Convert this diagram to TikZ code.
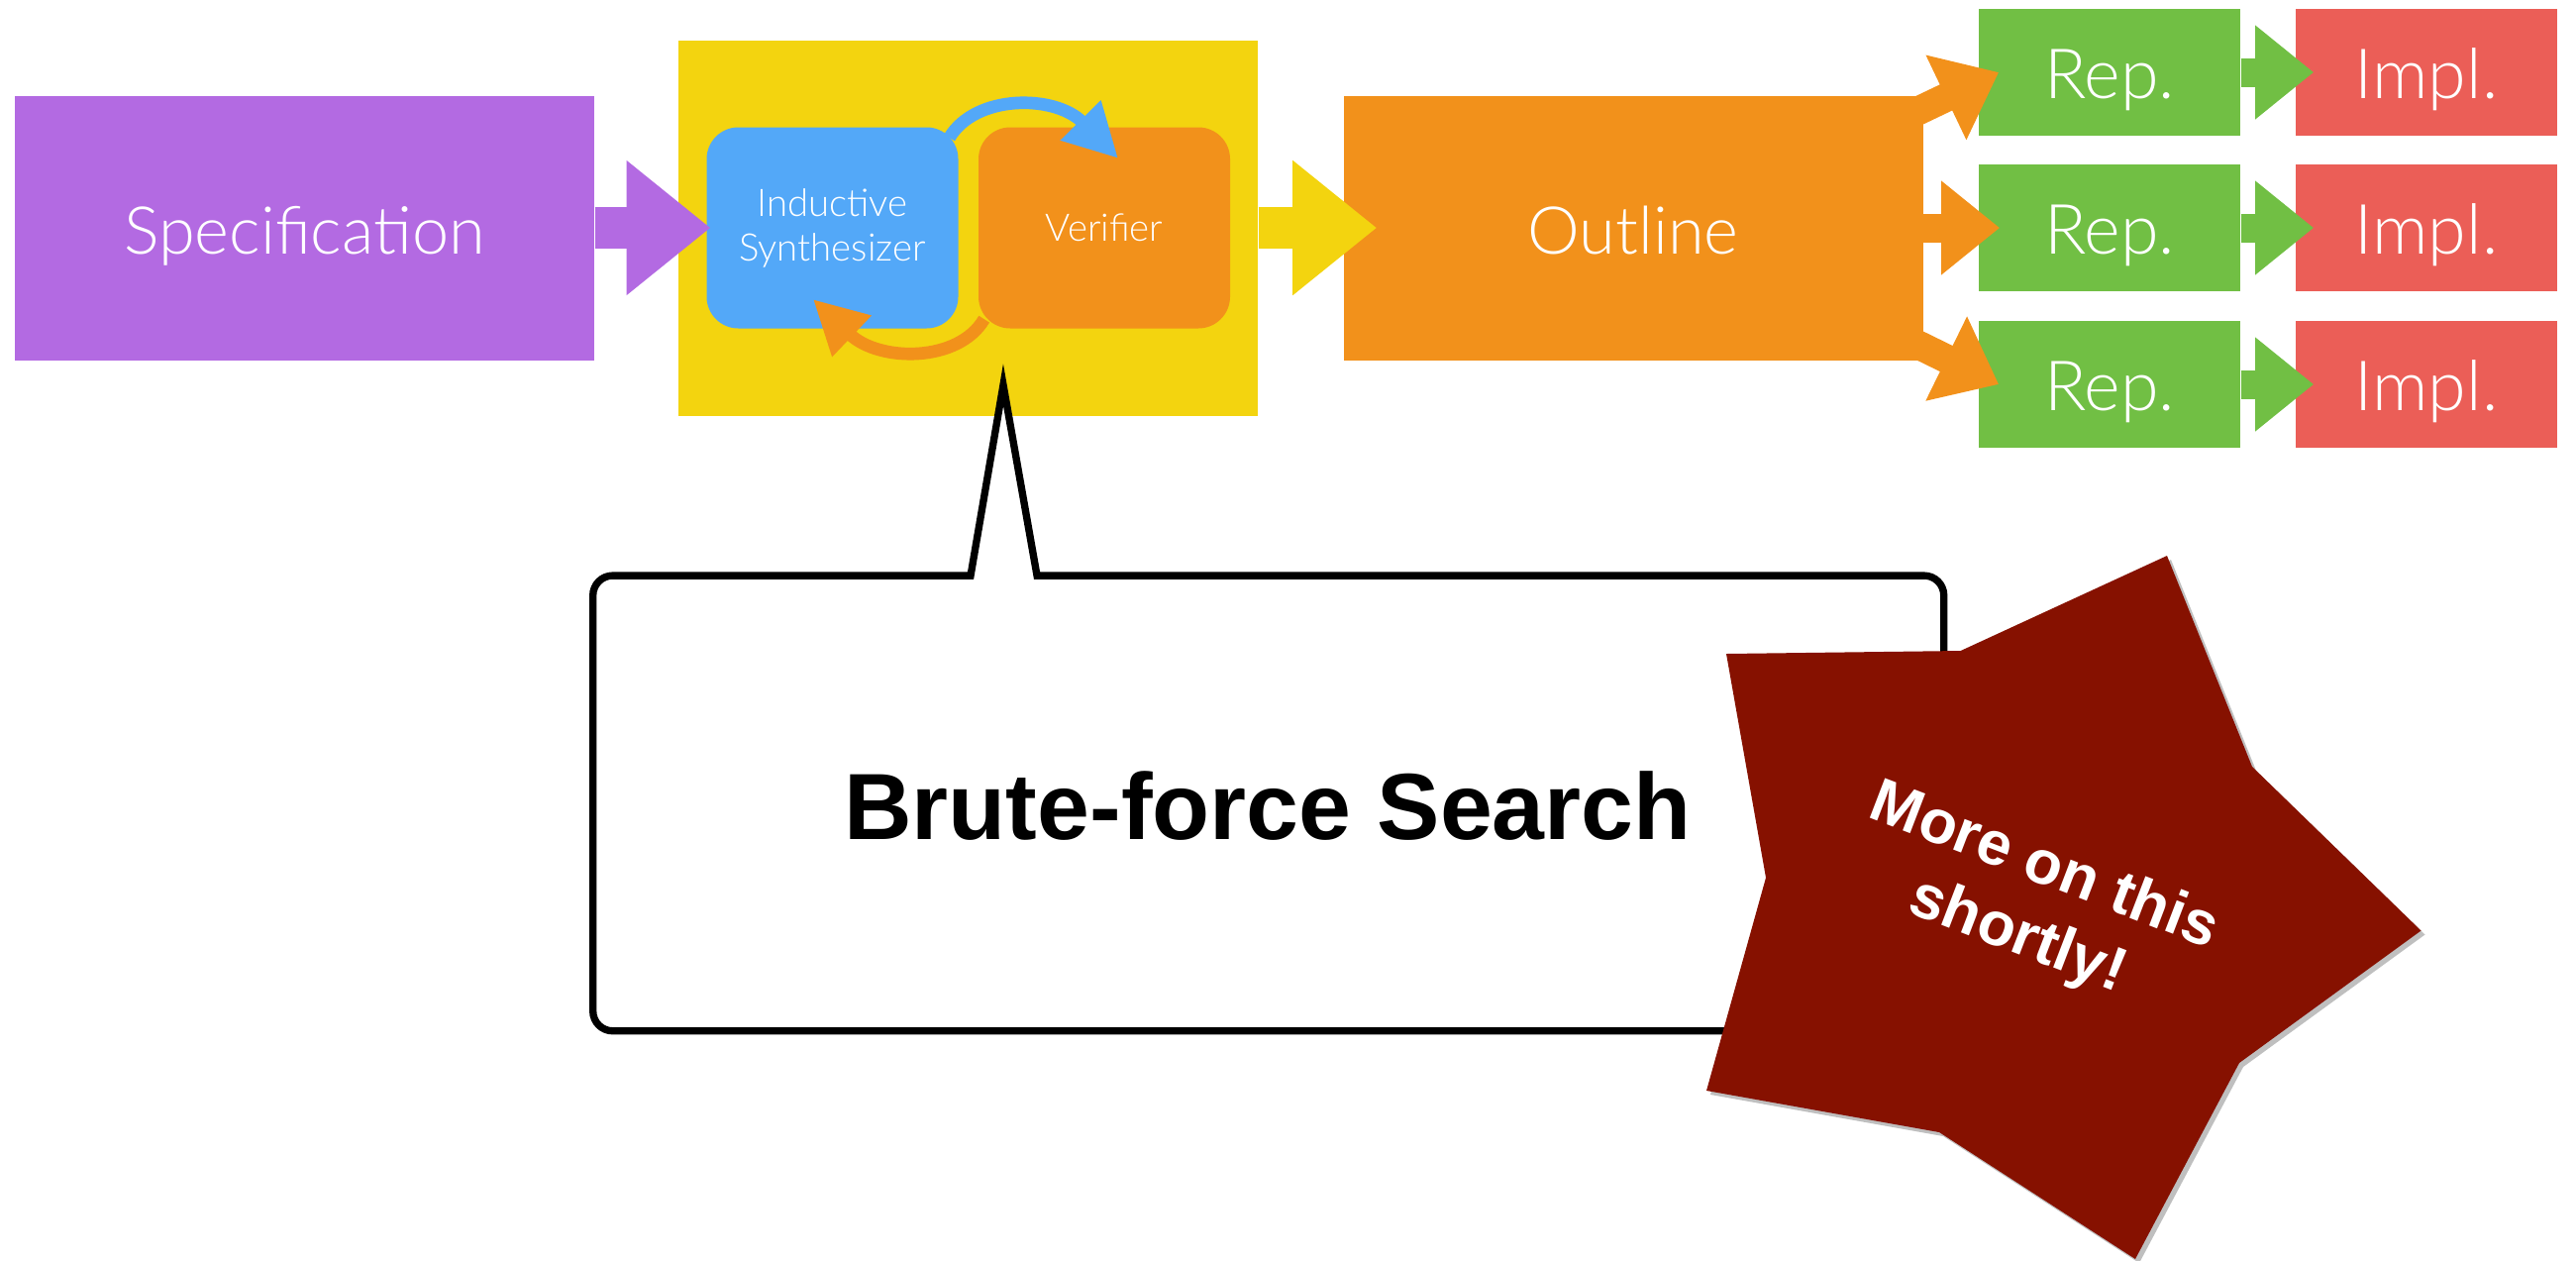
\documentclass[tikz,border=0pt]{standalone}
\usepackage{fontspec}
\setmainfont{Liberation Sans}
\newfontfamily\lightfont{Lato Light}
\usetikzlibrary{arrows.meta}

\definecolor{specpurple}{HTML}{B36AE2}
\definecolor{searchyellow}{HTML}{F3D40F}
\definecolor{synthblue}{HTML}{53A8F8}
\definecolor{verorange}{HTML}{F2911B}
\definecolor{repgreen}{HTML}{71BF44}
\definecolor{implred}{HTML}{EB5E57}
\definecolor{stardark}{HTML}{861100}

\begin{document}
\begin{tikzpicture}[x=0.3pt,y=-0.3pt,
  stage/.style={inner sep=0pt, text=white, minimum width=175.5pt, minimum height=80.1pt,
    text height=16pt, text depth=0pt, font=\lightfont\fontsize{20}{24}\selectfont},
  smallbox/.style={inner sep=0pt, text=white, minimum width=79.1pt, minimum height=38.4pt,
    text height=16pt, text depth=0pt, font=\lightfont\fontsize{21}{25}\selectfont},
  loopbox/.style={inner sep=0pt, text=white, rounded corners=9.6pt, minimum width=76.2pt,
    minimum height=60.9pt, align=center, font=\lightfont\fontsize{11.5}{13.5}\selectfont},
  bigarrow/.style={line width=12.7pt, -{Triangle[length=25.5pt,width=39.2pt]}},
  smallarrow/.style={line width=8.7pt, -{Triangle[length=17.7pt,width=27.3pt]}},
  looparrow/.style={line width=3.8pt, -{Triangle[length=16.2pt,width=16.2pt]}},
  calloutline/.style={draw=black, fill=white, line width=2.2pt},
]
\useasboundingbox (0,0) rectangle (2601,1272);

% pipeline stages
\node[stage, fill=specpurple] (spec) at (307.5,230) {Specification};
\node[inner sep=0pt, fill=searchyellow, minimum width=175.5pt, minimum height=113.7pt] (search) at (977.5,230) {};
\node[loopbox, fill=synthblue] (synth) at (840.5,230) {Inductive\\Synthesizer};
\node[loopbox, fill=verorange] (verif) at (1115,230) {Verifier};
\node[stage, fill=verorange] (outline) at (1649,230) {Outline};

\foreach \i/\y in {1/73, 2/230, 3/388} {
  \node[smallbox, fill=repgreen] (rep\i) at (2130,\y) {Rep.};
  \node[smallbox, fill=implred] (impl\i) at (2450,\y) {Impl.};
}

% block arrows between stages
\draw[bigarrow, specpurple] (spec.east) -- ([xshift=1.4pt]synth.west);
\draw[bigarrow, searchyellow] (search.east) -- ([xshift=10.3pt]outline.west);

\draw[smallarrow, verorange] ([xshift=-2pt,yshift=-5pt]outline.north east) -- ([xshift=6.2pt]rep1.west);
\draw[smallarrow, verorange] (outline.east) -- ([xshift=6.5pt]rep2.west);
\draw[smallarrow, verorange] ([xshift=-2pt,yshift=5pt]outline.south east) -- ([xshift=6.2pt]rep3.west);

\foreach \i in {1,2,3}
  \draw[smallarrow, repgreen] (rep\i.east) -- ([xshift=5.6pt]impl\i.west);

% synthesizer / verifier loop
\draw[looparrow, synthblue] ([xshift=-2.85pt,yshift=-3.3pt]synth.north east)
  .. controls (985,95) and (1065,95) .. ([xshift=4.2pt,yshift=-9.6pt]verif.north);
\draw[looparrow, verorange] ([xshift=1.9pt,yshift=3pt]verif.south west)
  .. controls (968,366) and (888,366) .. ([xshift=-5.85pt,yshift=9pt]synth.south);

% speech bubble
\node[inner sep=0pt, minimum width=408.8pt, minimum height=137.5pt] (callout) at (1280.7,810.9) {};
\coordinate (tailtip) at ([xshift=10.65pt,yshift=9.45pt]search.south);
\path[calloutline] ([xshift=-90.2pt]callout.north) -- (tailtip) -- ([xshift=-70.1pt]callout.north)
  -- ([xshift=-60pt]callout.north) [rounded corners=6pt] -- (callout.north east)
  -- (callout.south east) -- (callout.south west) -- (callout.north west)
  -- ([xshift=-100pt]callout.north) [sharp corners] -- cycle;
\node[font=\bfseries\fontsize{28.5}{34}\selectfont] (calltext) at (1280,814) {Brute-force Search};

% star badge
\fill[black, opacity=0.25, xshift=1.2pt, yshift=-1.2pt]
  (2188,561) -- (2274,774) -- (2444.5,939.5) -- (2261,1073) -- (2156,1271)
  -- (1958,1143) -- (1723,1101) -- (1783,886) -- (1743,660) -- (1979.6,657) -- cycle;
\fill[stardark]
  (2188,561) -- (2274,774) -- (2444.5,939.5) -- (2261,1073) -- (2156,1271)
  -- (1958,1143) -- (1723,1101) -- (1783,886) -- (1743,660) -- (1979.6,657) -- cycle;
\node[rotate=-21, text=white, align=center, font=\bfseries\fontsize{18.7}{22.5}\selectfont]
  (note) at (2050,911) {More on this\\shortly!};
\end{tikzpicture}
\end{document}
